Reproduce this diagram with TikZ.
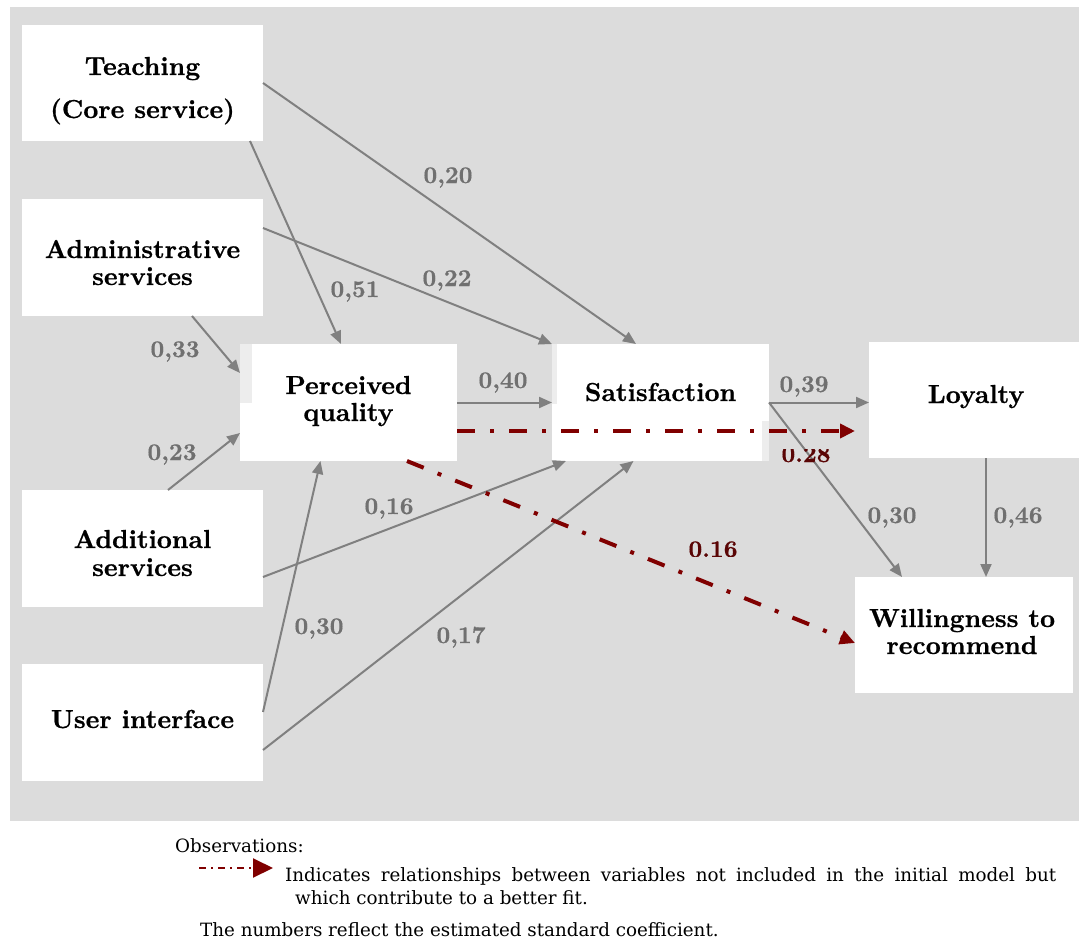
\documentclass[tikz,border=0pt]{standalone}
\usepackage{fontspec}
\newfontfamily\legfamily{DejaVu Serif}
\newfontfamily\boldfam{lmroman10-bold.otf}[FakeBold=0.6]
\usetikzlibrary{arrows.meta,calc}
\definecolor{bggrey}{HTML}{DCDCDC}
\definecolor{lightstrip}{HTML}{EDEDED}
\definecolor{arrgrey}{HTML}{808080}
\definecolor{lblgrey}{HTML}{707070}
\definecolor{redline}{HTML}{800000}
\definecolor{redlbl}{HTML}{5A0505}
\newcommand\myNodeFont{\boldfam\fontsize{26}{28}\selectfont}
\newcommand\myLblFont{\boldfam\fontsize{24}{26}\selectfont}
\newcommand\myLegFont{\legfamily\fontsize{18.3}{22}\selectfont}
\begin{document}
\begin{tikzpicture}[x=1pt,y=-1pt,
  box/.style={fill=white,inner sep=0pt,outer sep=0pt},
  txt/.style={inner sep=0pt,anchor=base,font=\myNodeFont,text=black},
  lbl/.style={inner sep=0pt,anchor=base,font=\myLblFont,text=lblgrey},
  rlbl/.style={inner sep=0pt,anchor=base,font=\myLblFont,text=redlbl},
  garrow/.style={draw=arrgrey,line width=2pt,-{Triangle[length=13pt,width=11pt]}},
  rarrow/.style={draw=redline,line width=4pt,dash pattern=on 18pt off 15pt on 4pt off 15pt,-{Triangle[length=15pt,width=14pt]}},
  legarrow/.style={draw=redline,line width=2pt,dash pattern=on 7pt off 5pt on 2pt off 5pt,-{Triangle[length=20pt,width=19pt]}},
  leg/.style={inner sep=0pt,anchor=base west,font=\myLegFont,text=black}
]
\useasboundingbox (0,0) rectangle (1079,939);
\fill[bggrey] (10,7) rectangle (1079,821);

% boxes
\node[box,minimum width=241pt,minimum height=116pt] (teach) at (142.5,83) {};
\node[box,minimum width=241pt,minimum height=117pt] (admin) at (142.5,257.5) {};
\node[box,minimum width=241pt,minimum height=117pt] (addl) at (142.5,548.5) {};
\node[box,minimum width=241pt,minimum height=117pt] (user) at (142.5,722.5) {};
\node[box,minimum width=217pt,minimum height=117pt] (perc) at (348.5,402.5) {};
\node[box,minimum width=217pt,minimum height=117pt] (sat) at (660.5,402.5) {};
\node[box,minimum width=210pt,minimum height=116pt] (loy) at (974,400) {};
\node[box,minimum width=218pt,minimum height=116pt] (will) at (964,635) {};

\fill[lightstrip] (240,344) rectangle (252,403);
\fill[lightstrip] (552,344) rectangle (557,404);
\fill[lightstrip] (762,421) rectangle (769,461);

% box texts
\node[txt] (tTeachA) at (142.5,75) {Teaching};
\node[txt] (tTeachB) at (142.5,118) {(Core service)};
\node[txt] (tAdminA) at (142.5,258) {Administrative};
\node[txt] (tAdminB) at (142.5,285) {services};
\node[txt] (tPercA) at (348.5,394) {Perceived};
\node[txt] (tPercB) at (348.5,421) {quality};
\node[txt] (tSat) at (660.5,401) {Satisfaction};
\node[txt] (tLoy) at (976,403) {Loyalty};
\node[txt] (tWillA) at (962,627) {Willingness to};
\node[txt] (tWillB) at (962,654) {recommend};
\node[txt] (tAddlA) at (142.5,548) {Additional};
\node[txt] (tAddlB) at (142.5,576) {services};
\node[txt] (tUser) at (142.5,728) {User interface};

% grey arrows
\draw[garrow] (teach.east) -- ([xshift=-24.5pt]sat.north);
\draw[garrow] ([xshift=-13pt]teach.south east) -- ([xshift=-7.5pt]perc.north);
\draw[garrow] ([yshift=29.5pt]admin.east) -- (sat.north west);
\draw[garrow] ([xshift=49.5pt]admin.south) -- ([yshift=29.5pt]perc.west);
\draw[garrow] ([xshift=25.5pt]addl.north) -- ([yshift=-30.5pt]perc.west);
\draw[garrow] ([yshift=-28.5pt]addl.east) -- ([xshift=14pt]sat.south west);
\draw[garrow] ([yshift=10.5pt]user.east) -- ([xshift=-28pt]perc.south);
\draw[garrow] ([yshift=-27.5pt]user.east) -- ([xshift=-27pt]sat.south);
\draw[garrow] (perc.east) -- (sat.west);
\draw[garrow] (sat.east) -- (sat.east -| loy.west);
\draw[garrow] (sat.east) -- ([xshift=-62pt]will.north);
\draw[garrow] ([xshift=12pt]loy.south) -- ([xshift=12pt]loy.south |- will.north);

% red arrows
\draw[rarrow,shorten >=14pt] ([yshift=-28.5pt]perc.east) -- ([yshift=-28.5pt]perc.east -| loy.west);
\draw[rarrow] ([xshift=58.5pt]perc.south) -- ([yshift=-8pt]will.west);

% coefficient labels
\node[lbl] (l20) at (448,183) {0,20};
\node[lbl] (l51) at (355,297) {0,51};
\node[lbl] (l22) at (447,286) {0,22};
\node[lbl] (l33) at (175,357) {0,33};
\node[lbl] (l23) at (172,460) {0,23};
\node[lbl] (l16) at (389,514) {0,16};
\node[lbl] (l30a) at (319,634) {0,30};
\node[lbl] (l17) at (461,643) {0,17};
\node[lbl] (l40) at (503,388) {0,40};
\node[lbl] (l39) at (804,392) {0,39};
\node[lbl] (l30b) at (892,523) {0,30};
\node[lbl] (l46) at (1018,523) {0,46};
\begin{scope}
\clip (770,449.5) rectangle (840,470);
\node[rlbl] (r28) at (806,462) {0.28};
\end{scope}
\begin{scope}
\clip (670,530) rectangle (760,556.5);
\node[rlbl] (r16) at (713,557) {0.16};
\end{scope}

% legend
\node[leg] (obs) at (175,852) {Observations:};
\coordinate (legA) at (199,868);
\coordinate (legB) at (273,868);
\draw[legarrow] (legA) -- (legB);
\node[leg] (ind) at (285,881) {\makebox[771pt][s]{Indicates relationships between variables not included in the initial model but}};
\node[leg] (which) at (295,904) {which contribute to a better fit.};
\node[leg] (nums) at (200,936) {The numbers reflect the estimated standard coefficient.};
\end{tikzpicture}
\end{document}
